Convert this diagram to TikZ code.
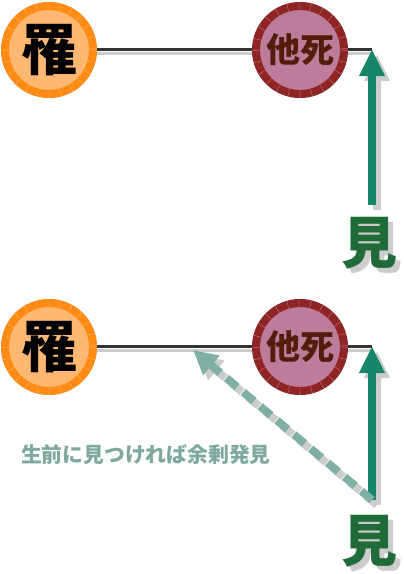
\documentclass[tikz,border=0pt]{standalone}
\usepackage{fontspec}
\newfontfamily\cjk{Noto Sans CJK JP}[BoldFont={* Black}]
\usetikzlibrary{arrows.meta,backgrounds}
\definecolor{oring}{RGB}{255,138,20}
\definecolor{ofill}{RGB}{255,184,113}
\definecolor{otick}{RGB}{255,175,95}
\definecolor{rring}{RGB}{142,36,36}
\definecolor{rfill}{RGB}{190,124,156}
\definecolor{rtick}{RGB}{195,110,110}
\definecolor{rtext}{RGB}{85,28,12}
\definecolor{garr}{RGB}{23,133,103}
\definecolor{gtext}{RGB}{31,107,58}
\definecolor{dash}{RGB}{128,176,164}
\definecolor{ltext}{RGB}{127,168,158}
\definecolor{shad}{RGB}{204,204,204}
\definecolor{lineg}{RGB}{51,51,51}
\tikzset{
  orangecirc/.style={circle,minimum size=88pt,inner sep=0pt,line width=8pt,draw=oring,fill=ofill,font=\cjk\bfseries\fontsize{56}{56}\selectfont,text=black},
  redcirc/.style={circle,minimum size=88pt,inner sep=0pt,line width=8pt,draw=rring,fill=rfill,font=\cjk\bfseries\fontsize{34}{34}\selectfont,text=rtext},
  otickring/.style={draw=otick,line width=8pt,dash pattern=on 0.45pt off 11pt},
  rtickring/.style={draw=rtick,line width=8pt,dash pattern=on 0.45pt off 11pt},
  shadcirc/.style={fill=shad},
  mikanji/.style={font=\cjk\bfseries\fontsize{56}{56}\selectfont,text=gtext,inner sep=0pt},
  mishadow/.style={font=\cjk\bfseries\fontsize{56}{56}\selectfont,text=shad,inner sep=0pt},
  hline/.style={draw=lineg,line width=3pt},
  hshadow/.style={draw=shad,line width=3pt},
  garrow/.style={draw=garr,line width=8pt,-{Triangle[width=24pt,length=27pt]}},
  garrowshadow/.style={draw=shad,line width=8pt,-{Triangle[width=24pt,length=27pt]}},
  darrow/.style={draw=dash,line width=8pt,dash pattern=on 14pt off 8pt,-{Triangle[width=24pt,length=24pt]}},
  darrowshadow/.style={draw=shad,line width=8pt,dash pattern=on 14pt off 8pt,-{Triangle[width=24pt,length=24pt]}},
  notetext/.style={font=\cjk\bfseries\fontsize{20.8}{21}\selectfont,text=ltext,inner sep=0pt,anchor=west},
}
\begin{document}
\begin{tikzpicture}[x=1pt,y=-1pt]
\useasboundingbox (0,0) rectangle (405,574);
% ---------- top ----------
\coordinate (c1) at (372,49);
\coordinate (a1) at (372,205);
\node[orangecirc] (r1) at (49,50) {罹};
\draw[otickring] (r1) circle (44);
\node[redcirc] (t1) at (300,50) {他死};
\draw[rtickring] (t1) circle (44);
\draw[hline] (r1.east |- c1) -- (t1.west |- c1);
\draw[hline] (t1.east |- c1) -- (c1);
\draw[garrow] (a1) -- (c1);
\node[mikanji] (m1) at (369,243) {見};
% ---------- bottom ----------
\coordinate (c2) at (372,346);
\coordinate (a2) at (372,500);
\coordinate (d2) at (193,350);
\node[orangecirc] (r2) at (49,347) {罹};
\draw[otickring] (r2) circle (44);
\node[redcirc] (t2) at (300,347) {他死};
\draw[rtickring] (t2) circle (44);
\draw[hline] (r2.east |- c2) -- (t2.west |- c2);
\draw[hline] (t2.east |- c2) -- (c2);
\draw[garrow] (a2) -- (c2);
\draw[darrow] (a2) -- (d2);
\node[mikanji] (m2) at (369,541) {見};
\node[notetext] (n2) at (21,455) {生前に見つければ余剰発見};
% ---------- shadows ----------
\begin{pgfonlayer}{background}
\begin{scope}[shift={(5,5)}]
\fill[shadcirc] (r1) circle (48);
\fill[shadcirc] (t1) circle (48);
\fill[shadcirc] (r2) circle (48);
\fill[shadcirc] (t2) circle (48);
\end{scope}
\begin{scope}[transform canvas={shift={(0pt,-4pt)}}]
\draw[hshadow] (r1.east |- c1) -- (c1);
\draw[hshadow] (r2.east |- c2) -- (c2);
\end{scope}
\begin{scope}[transform canvas={shift={(5pt,-5pt)}}]
\draw[garrowshadow] (a1) -- (c1);
\draw[garrowshadow] (a2) -- (c2);
\draw[darrowshadow] (a2) -- (d2);
\end{scope}
\node[mishadow] at ([shift={(5,5)}]m1.center) {見};
\node[mishadow] at ([shift={(5,5)}]m2.center) {見};
\end{pgfonlayer}
\end{tikzpicture}
\end{document}
